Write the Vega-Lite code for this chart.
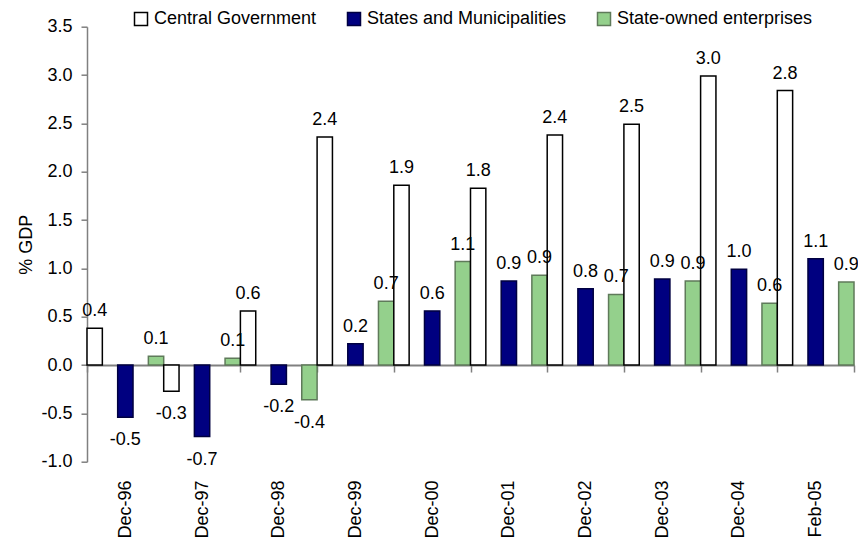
{
  "$schema": "https://vega.github.io/schema/vega-lite/v6.json",
  "width": 767,
  "height": 435,
  "autosize": {"type": "none"},
  "padding": {"left": 87, "top": 26.7, "right": 4, "bottom": 84.3},
  "background": "white",
  "config": {
    "view": {"stroke": null},
    "font": "Liberation Sans",
    "text": {"font": "Liberation Sans"}
  },
  "data": {
    "values": [
      {"date": "Dec-96", "series": "Central Government", "value": 0.38},
      {"date": "Dec-96", "series": "States and Municipalities", "value": -0.54},
      {"date": "Dec-96", "series": "State-owned enterprises", "value": 0.09},
      {"date": "Dec-97", "series": "Central Government", "value": -0.27},
      {"date": "Dec-97", "series": "States and Municipalities", "value": -0.74},
      {"date": "Dec-97", "series": "State-owned enterprises", "value": 0.07},
      {"date": "Dec-98", "series": "Central Government", "value": 0.56},
      {"date": "Dec-98", "series": "States and Municipalities", "value": -0.2},
      {"date": "Dec-98", "series": "State-owned enterprises", "value": -0.36},
      {"date": "Dec-99", "series": "Central Government", "value": 2.36},
      {"date": "Dec-99", "series": "States and Municipalities", "value": 0.22},
      {"date": "Dec-99", "series": "State-owned enterprises", "value": 0.66},
      {"date": "Dec-00", "series": "Central Government", "value": 1.86},
      {"date": "Dec-00", "series": "States and Municipalities", "value": 0.56},
      {"date": "Dec-00", "series": "State-owned enterprises", "value": 1.07},
      {"date": "Dec-01", "series": "Central Government", "value": 1.83},
      {"date": "Dec-01", "series": "States and Municipalities", "value": 0.87},
      {"date": "Dec-01", "series": "State-owned enterprises", "value": 0.93},
      {"date": "Dec-02", "series": "Central Government", "value": 2.38},
      {"date": "Dec-02", "series": "States and Municipalities", "value": 0.79},
      {"date": "Dec-02", "series": "State-owned enterprises", "value": 0.73},
      {"date": "Dec-03", "series": "Central Government", "value": 2.49},
      {"date": "Dec-03", "series": "States and Municipalities", "value": 0.89},
      {"date": "Dec-03", "series": "State-owned enterprises", "value": 0.87},
      {"date": "Dec-04", "series": "Central Government", "value": 2.99},
      {"date": "Dec-04", "series": "States and Municipalities", "value": 0.99},
      {"date": "Dec-04", "series": "State-owned enterprises", "value": 0.64},
      {"date": "Feb-05", "series": "Central Government", "value": 2.84},
      {"date": "Feb-05", "series": "States and Municipalities", "value": 1.1},
      {"date": "Feb-05", "series": "State-owned enterprises", "value": 0.86}
    ]
  },
  "encoding": {
    "x": {
      "field": "date",
      "type": "nominal",
      "sort": null,
      "scale": {"paddingInner": 0, "paddingOuter": 0},
      "axis": {
        "title": null,
        "offset": -96.667,
        "domainColor": "#808080",
        "domainWidth": 2,
        "tickBand": "extent",
        "tickColor": "#808080",
        "tickSize": 7,
        "tickWidth": 1.5,
        "labelAngle": 270,
        "labelPadding": 108,
        "labelFontSize": 18,
        "labelFont": "Liberation Sans",
        "labelColor": "black"
      }
    },
    "xOffset": {
      "field": "series",
      "type": "nominal",
      "scale": {
        "domain": ["Central Government", "_gap1", "States and Municipalities", "_gap2", "State-owned enterprises"],
        "paddingInner": 0,
        "paddingOuter": 0
      }
    },
    "y": {
      "field": "value",
      "type": "quantitative",
      "scale": {"domain": [-1, 3.5], "nice": false, "zero": false},
      "axis": {
        "title": "% GDP",
        "values": [-1, -0.5, 0, 0.5, 1, 1.5, 2, 2.5, 3, 3.5],
        "format": ".1f",
        "labelExpr": "replace(datum.label, '\u2212', '-')",
        "grid": false,
        "domainColor": "#808080",
        "domainWidth": 1.5,
        "tickColor": "#808080",
        "tickSize": 6,
        "tickWidth": 1.5,
        "labelPadding": 9,
        "labelFontSize": 18,
        "labelFont": "Liberation Sans",
        "labelColor": "black",
        "titleFontSize": 18,
        "titleFont": "Liberation Sans",
        "titleFontWeight": "normal",
        "titleColor": "black",
        "titlePadding": 5
      }
    }
  },
  "layer": [
    {
      "mark": {"type": "bar", "strokeWidth": 1.5},
      "encoding": {
        "fill": {
          "field": "series",
          "type": "nominal",
          "scale": {
            "domain": ["Central Government", "States and Municipalities", "State-owned enterprises"],
            "range": ["#ffffff", "#000080", "#94d08c"]
          },
          "legend": {
            "orient": "none",
            "legendX": 45,
            "legendY": -17,
            "direction": "horizontal",
            "title": null,
            "symbolType": "square",
            "symbolSize": 169,
            "symbolStrokeWidth": 1.5,
            "labelFontSize": 18,
            "labelFont": "Liberation Sans",
            "labelColor": "black",
            "labelOffset": 4,
            "columnPadding": 27,
            "padding": 0,
            "labelLimit": 400
          }
        },
        "stroke": {
          "field": "series",
          "type": "nominal",
          "scale": {
            "domain": ["Central Government", "States and Municipalities", "State-owned enterprises"],
            "range": ["#000000", "#000040", "#5f7a5a"]
          },
          "legend": {
            "orient": "none",
            "legendX": 45,
            "legendY": -17,
            "direction": "horizontal",
            "title": null,
            "symbolType": "square",
            "symbolSize": 169,
            "symbolStrokeWidth": 1.5,
            "labelFontSize": 18,
            "labelFont": "Liberation Sans",
            "labelColor": "black",
            "labelOffset": 4,
            "columnPadding": 27,
            "padding": 0,
            "labelLimit": 400
          }
        }
      }
    },
    {
      "transform": [{"filter": "datum.value >= 0"}],
      "mark": {
        "type": "text",
        "baseline": "alphabetic",
        "align": "center",
        "dy": -12,
        "fontSize": 18,
        "color": "black",
        "text": {"expr": "replace(format(datum.value, '.1f'), '\u2212', '-')"}
      }
    },
    {
      "transform": [{"filter": "datum.value < 0"}],
      "mark": {
        "type": "text",
        "baseline": "alphabetic",
        "align": "center",
        "dy": 28,
        "fontSize": 18,
        "color": "black",
        "text": {"expr": "replace(format(datum.value, '.1f'), '\u2212', '-')"}
      }
    }
  ]
}
